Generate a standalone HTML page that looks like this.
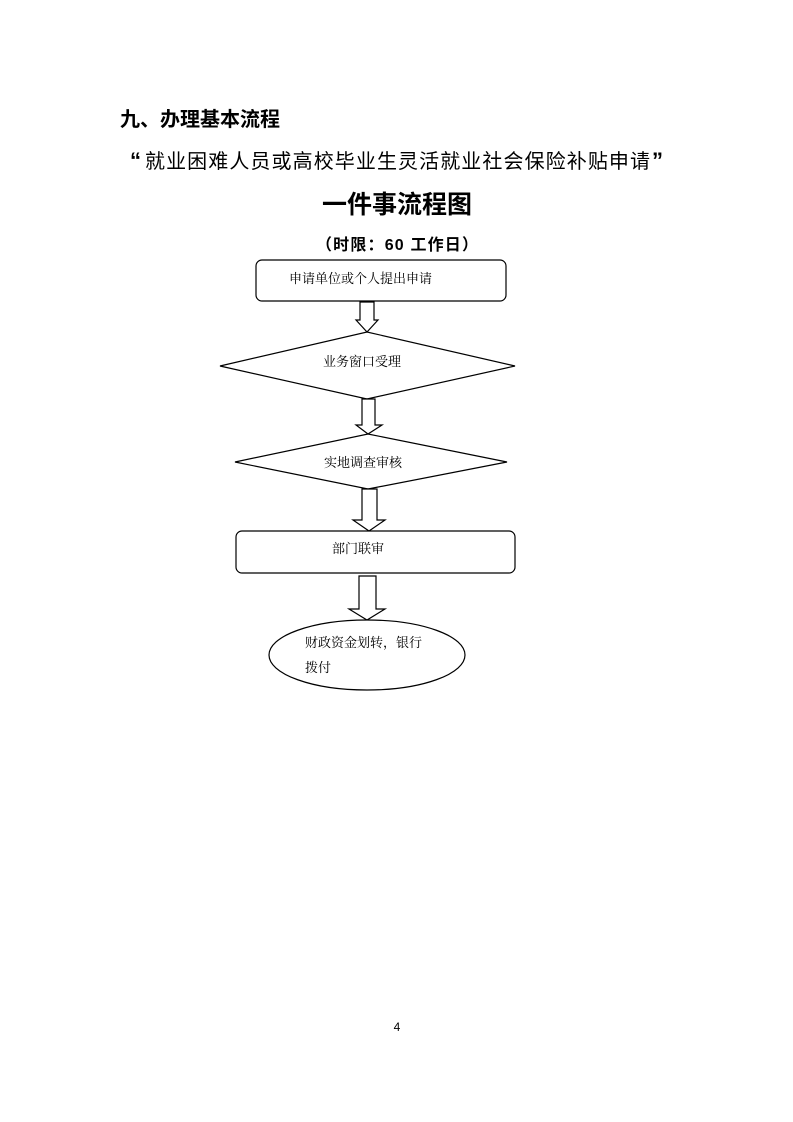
<!DOCTYPE html>
<html><head><meta charset="utf-8"><style>
html,body{margin:0;padding:0;background:#fff}
svg{display:block}
text{font-family:"Liberation Sans","Noto Sans CJK SC",sans-serif;fill:#000}
.s{font-family:"Liberation Serif","Noto Serif CJK SC",serif}
</style></head><body>
<svg width="793" height="1122" viewBox="0 0 793 1122" xmlns="http://www.w3.org/2000/svg">
<text x="120" y="126" font-size="20" font-weight="bold">九、办理基本流程</text>
<text x="130" y="168" font-size="22" font-weight="bold">“</text>
<text x="145" y="168" font-size="20" textLength="505" lengthAdjust="spacing">就业困难人员或高校毕业生灵活就业社会保险补贴申请</text>
<text x="652" y="168" font-size="22" font-weight="bold">”</text>
<text x="397" y="213" font-size="25" font-weight="bold" text-anchor="middle">一件事流程图</text>
<text x="316" y="250" font-size="16" font-weight="bold" textLength="162" lengthAdjust="spacing">（时限：60 工作日）</text>
<g fill="#fff" stroke="#000" stroke-width="1.2">
<rect x="256" y="260" width="250" height="41" rx="6"/>
<polygon points="360,302 374,302 374,320 378,320 367,332 356,320 360,320"/>
<polygon points="220,366 367,332 515,366 367,399"/>
<polygon points="362,399 375,399 375,425 382,425 368,434 356,425 362,425"/>
<polygon points="235,462 368,434 507,462 368,489"/>
<polygon points="362,489 377,489 377,520 385,520 369,531 353,520 362,520"/>
<rect x="236" y="531" width="279" height="42" rx="6"/>
<polygon points="359,576 376,576 376,609 385,609 367,620 349,609 359,609"/>
<ellipse cx="367" cy="655" rx="98" ry="35"/>
</g>
<g class="s" font-size="13">
<text class="s" x="289" y="283">申请单位或个人提出申请</text>
<text class="s" x="362" y="366" text-anchor="middle">业务窗口受理</text>
<text class="s" x="363" y="467" text-anchor="middle">实地调查审核</text>
<text class="s" x="358" y="553" text-anchor="middle">部门联审</text>
<text class="s" x="305" y="647">财政资金划转，银行</text>
<text class="s" x="305" y="672">拨付</text>
</g>
<text x="397" y="1031" font-size="12" text-anchor="middle">4</text>
</svg>
</body></html>
